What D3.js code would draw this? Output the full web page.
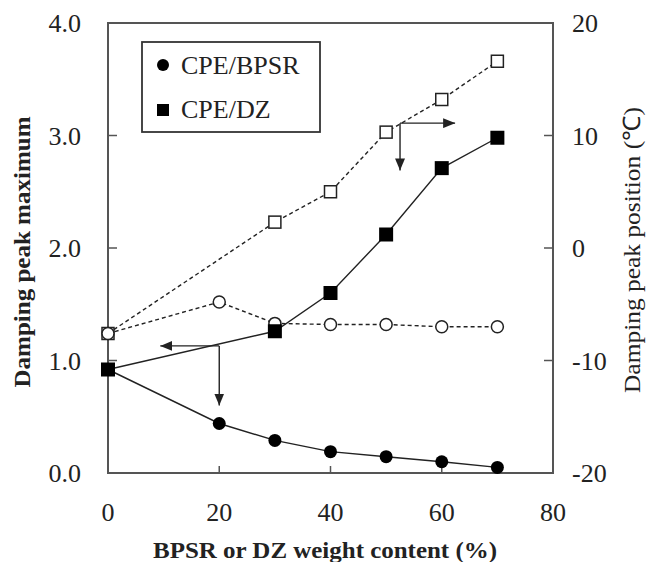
<!DOCTYPE html>
<html>
<head>
<meta charset="utf-8">
<script src="https://cdn.jsdelivr.net/npm/d3@7"></script>
<style>
  body { margin: 0; background: #fff; }
  text { font-family: "Liberation Serif", "Times New Roman", serif; fill: #222; }
</style>
</head>
<body>
<div id="chart"></div>
<script>
// weight content (%)
let content = [0, 20, 30, 40, 50, 60, 70];
let dzContent = [0, 30, 40, 50, 60, 70];

// damping peak maximum (left axis)
let bpsrMax = [0.92, 0.44, 0.29, 0.19, 0.145, 0.10, 0.05];
let dzMax = [0.92, 1.26, 1.60, 2.12, 2.71, 2.98];

// damping peak position, degC (right axis)
let bpsrPos = [-7.6, -4.8, -6.7, -6.8, -6.8, -7.0, -7.0];
let dzPos = [-7.6, 2.3, 5.0, 10.3, 13.2, 16.6];

let xTicks = [0, 20, 40, 60, 80];
let leftTicks = [0, 1, 2, 3, 4];
let rightTicks = [-20, -10, 0, 10, 20];

// arrows: start point, horizontal tip, vertical tip (axis of the value)
let arrows = [
    {axis: "left", x: 20, y: 1.13, hx: 9.4, vy: 0.6},
    {axis: "right", x: 52.5, y: 11.1, hx: 62.4, vy: 6.9}
];

let width = 647, height = 562;
let margin = {left: 108, right: 94, top: 23, bottom: 89};

let svg = d3.select("#chart").append("svg")
    .attr("width", width)
    .attr("height", height);

let x = d3.scaleLinear().domain([0, 80]).range([margin.left, width - margin.right]);
let yL = d3.scaleLinear().domain([0, 4]).range([height - margin.bottom, margin.top]);
let yR = d3.scaleLinear().domain([-20, 20]).range([height - margin.bottom, margin.top]);

let axisColor = "#555";

// frame
svg.append("rect")
    .attr("x", x(0))
    .attr("y", yL(4))
    .attr("width", x(80) - x(0))
    .attr("height", yL(0) - yL(4))
    .style("fill", "none")
    .style("stroke", axisColor)
    .style("stroke-width", 2);

// inward ticks
svg.selectAll()
    .data(xTicks.slice(1, -1))
    .enter()
    .append("line")
    .attr("x1", d => x(d)).attr("x2", d => x(d))
    .attr("y1", yL(0)).attr("y2", yL(0) - 7)
    .style("stroke", axisColor).style("stroke-width", 1.5);

svg.selectAll()
    .data(leftTicks.slice(1, -1))
    .enter()
    .append("line")
    .attr("x1", x(0)).attr("x2", x(0) + 9)
    .attr("y1", d => yL(d)).attr("y2", d => yL(d))
    .style("stroke", axisColor).style("stroke-width", 1.5);

svg.selectAll()
    .data(rightTicks.slice(1, -1))
    .enter()
    .append("line")
    .attr("x1", x(80)).attr("x2", x(80) - 9)
    .attr("y1", d => yR(d)).attr("y2", d => yR(d))
    .style("stroke", axisColor).style("stroke-width", 1.5);

// tick labels
svg.selectAll()
    .data(xTicks)
    .enter()
    .append("text")
    .attr("x", d => x(d))
    .attr("y", 521)
    .attr("text-anchor", "middle")
    .style("font-size", "26px")
    .text(d => d);

svg.selectAll()
    .data(leftTicks)
    .enter()
    .append("text")
    .attr("x", 81)
    .attr("y", d => yL(d) + 9)
    .attr("text-anchor", "end")
    .style("font-size", "26px")
    .text(d => d.toFixed(1));

svg.selectAll()
    .data(rightTicks)
    .enter()
    .append("text")
    .attr("x", 572)
    .attr("y", d => yR(d) + 9)
    .attr("text-anchor", "start")
    .style("font-size", "26px")
    .text(d => d);

// axis titles
svg.append("text")
    .attr("transform", "translate(30," + 252 + ") rotate(-90)")
    .attr("text-anchor", "middle")
    .attr("textLength", 271)
    .attr("lengthAdjust", "spacingAndGlyphs")
    .style("font-size", "23px")
    .style("font-weight", "bold")
    .text("Damping peak maximum");

svg.append("text")
    .attr("transform", "translate(640," + 250 + ") rotate(-90)")
    .attr("text-anchor", "middle")
    .attr("textLength", 286)
    .attr("lengthAdjust", "spacingAndGlyphs")
    .style("font-size", "24px")
    .text("Damping peak position (\u2103)");

svg.append("text")
    .attr("x", 325)
    .attr("y", 558)
    .attr("text-anchor", "middle")
    .attr("textLength", 344)
    .attr("lengthAdjust", "spacingAndGlyphs")
    .style("font-size", "24px")
    .style("font-weight", "bold")
    .text("BPSR or DZ weight content (%)");

// lines
let lineL = d3.line().x(d => x(d[0])).y(d => yL(d[1]));
let lineR = d3.line().x(d => x(d[0])).y(d => yR(d[1]));

svg.append("path")
    .attr("d", lineR(d3.zip(content, bpsrPos)))
    .style("fill", "none").style("stroke", "#222")
    .style("stroke-width", 1.4).style("stroke-dasharray", "4,3");

svg.append("path")
    .attr("d", lineR(d3.zip(dzContent, dzPos)))
    .style("fill", "none").style("stroke", "#222")
    .style("stroke-width", 1.4).style("stroke-dasharray", "4,3");

svg.append("path")
    .attr("d", lineL(d3.zip(content, bpsrMax)))
    .style("fill", "none").style("stroke", "#222").style("stroke-width", 1.4);

svg.append("path")
    .attr("d", lineL(d3.zip(dzContent, dzMax)))
    .style("fill", "none").style("stroke", "#222").style("stroke-width", 1.4);

// open markers (peak position)
svg.selectAll()
    .data(d3.zip(dzContent, dzPos))
    .enter()
    .append("rect")
    .attr("x", d => x(d[0]) - 6)
    .attr("y", d => yR(d[1]) - 6)
    .attr("width", 12).attr("height", 12)
    .style("fill", "#fff").style("stroke", "#222").style("stroke-width", 1.5);

svg.selectAll()
    .data(d3.zip(content, bpsrPos))
    .enter()
    .append("circle")
    .attr("cx", d => x(d[0]))
    .attr("cy", d => yR(d[1]))
    .attr("r", 6)
    .style("fill", "#fff").style("stroke", "#222").style("stroke-width", 1.5);

// filled markers (peak maximum)
svg.selectAll()
    .data(d3.zip(content, bpsrMax))
    .enter()
    .append("circle")
    .attr("cx", d => x(d[0]))
    .attr("cy", d => yL(d[1]))
    .attr("r", 6.5)
    .style("fill", "#000");

svg.selectAll()
    .data(d3.zip(dzContent, dzMax))
    .enter()
    .append("rect")
    .attr("x", d => x(d[0]) - 7)
    .attr("y", d => yL(d[1]) - 7)
    .attr("width", 14).attr("height", 14)
    .style("fill", "#000");

// arrows
svg.append("defs").append("marker")
    .attr("id", "head")
    .attr("viewBox", "0 0 12 10")
    .attr("refX", 12).attr("refY", 5)
    .attr("markerWidth", 12).attr("markerHeight", 10)
    .attr("markerUnits", "userSpaceOnUse")
    .attr("orient", "auto")
    .append("path")
    .attr("d", "M0,0 L12,5 L0,10 Z")
    .style("fill", "#222");

for (let a of arrows) {
    let ys = a.axis === "left" ? yL : yR;
    svg.append("line")
        .attr("x1", x(a.x)).attr("y1", ys(a.y))
        .attr("x2", x(a.hx)).attr("y2", ys(a.y))
        .style("stroke", "#222").style("stroke-width", 1.4)
        .attr("marker-end", "url(#head)");
    svg.append("line")
        .attr("x1", x(a.x)).attr("y1", ys(a.y))
        .attr("x2", x(a.x)).attr("y2", ys(a.vy))
        .style("stroke", "#222").style("stroke-width", 1.4)
        .attr("marker-end", "url(#head)");
}

// legend
let legend = svg.append("g");
legend.append("rect")
    .attr("x", 142).attr("y", 42)
    .attr("width", 178).attr("height", 90)
    .style("fill", "#fff").style("stroke", "#333").style("stroke-width", 1.8);

legend.append("circle")
    .attr("cx", 163).attr("cy", 65).attr("r", 6)
    .style("fill", "#000");
legend.append("text")
    .attr("x", 181).attr("y", 74)
    .style("font-size", "26px")
    .text("CPE/BPSR");

legend.append("rect")
    .attr("x", 157).attr("y", 104).attr("width", 12).attr("height", 12)
    .style("fill", "#000");
legend.append("text")
    .attr("x", 181).attr("y", 118)
    .style("font-size", "26px")
    .text("CPE/DZ");
</script>
</body>
</html>
